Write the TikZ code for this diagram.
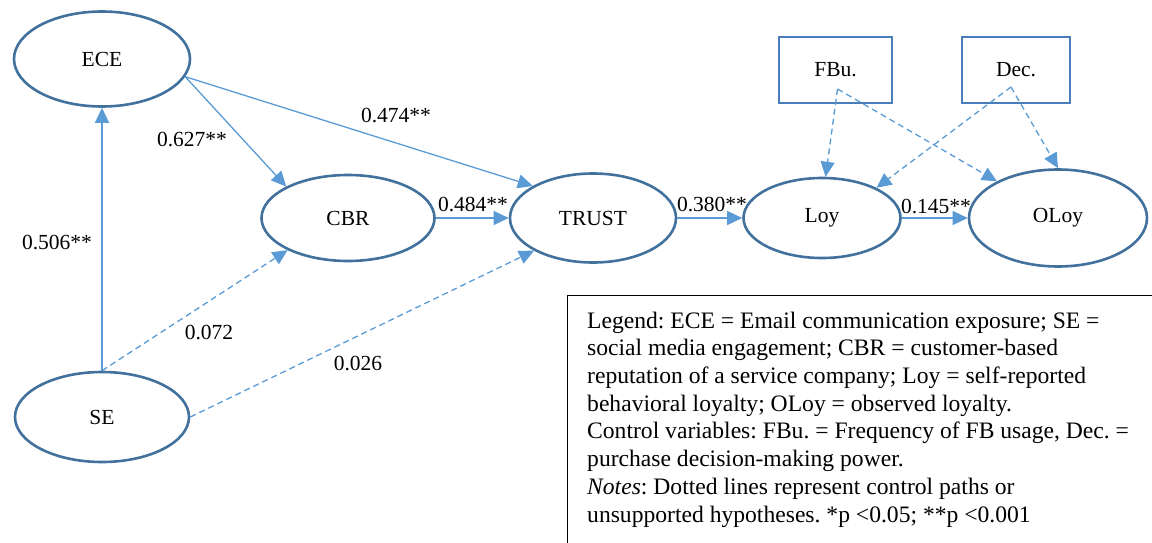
\documentclass[tikz,border=0pt]{standalone}
\usepackage{fontspec}
\setmainfont{Liberation Serif}
\usetikzlibrary{shapes.geometric,arrows.meta}
\definecolor{ovalline}{HTML}{41719C}
\definecolor{boxline}{HTML}{4A7EBB}
\definecolor{pathline}{HTML}{5B9BD5}
\frenchspacing
\begin{document}
\begin{tikzpicture}[x=1pt,y=-1pt,
  labelfont/.style={font=\fontsize{21.5}{26}\selectfont},
  construct/.style={ellipse,draw=ovalline,line width=2.6pt,inner sep=0pt,labelfont},
  control/.style={rectangle,draw=boxline,line width=2.4pt,inner sep=0pt,minimum height=66pt,labelfont},
  link/.style={draw=pathline,line width=1.3pt,-{Triangle[length=15pt,width=14pt]}},
  ctrl/.style={link,dash pattern=on 6pt off 4pt},
  coef/.style={inner sep=0pt,labelfont},
]
\useasboundingbox (0,0) rectangle (1152,543);

% latent constructs
\node[construct,minimum width=176pt,minimum height=95pt] (ECE) at (102,59) {ECE};
\node[construct,minimum width=174pt,minimum height=90pt] (SE) at (102,417) {SE};
\node[construct,minimum width=173pt,minimum height=86pt] (CBR) at (348,218) {CBR};
\node[construct,minimum width=166pt,minimum height=89pt] (TRUST) at (593,218) {TRUST};
\node[construct,minimum width=157pt,minimum height=80pt] (Loy) at (822,218) {Loy};
\node[construct,minimum width=178pt,minimum height=97pt] (OLoy) at (1058,218) {OLoy};

% control variables
\node[control,minimum width=113pt] (FBu) at (835.5,70) {FBu.};
\node[control,minimum width=108pt] (Dec) at (1016,70) {Dec.};
\coordinate (fbsrc) at ([xshift=2pt,yshift=-19pt]FBu.center);
\coordinate (decsrc) at ([xshift=-5pt,yshift=-17pt]Dec.center);

% structural paths
\draw[link] (SE.north) -- (ECE.south);
\draw[link] (ECE.-12) -- (CBR.153);
\draw[link] (ECE.-12) -- (TRUST.152);
\draw[link] (CBR.east) -- (TRUST.west);
\draw[link] (TRUST.east) -- (Loy.west);
\draw[link] (Loy.east) -- (OLoy.west);

% control and unsupported paths
\draw[ctrl] (SE.north) -- (CBR.208);
\draw[ctrl] (SE.east) -- (TRUST.209);
\draw[ctrl] (fbsrc) -- (Loy.85);
\draw[ctrl] (fbsrc) -- (OLoy.149);
\draw[ctrl] (decsrc) -- (Loy.29);
\draw[ctrl] (decsrc) -- (OLoy.north);

% path coefficients
\node[coef] (c1) at (192,140) {0.627**};
\node[coef] (c2) at (396,116) {0.474**};
\node[coef] (c3) at (57,243) {0.506**};
\node[coef] (c4) at (473,205) {0.484**};
\node[coef] (c5) at (712,205) {0.380**};
\node[coef] (c6) at (936,207) {0.145**};
\node[coef] (c7) at (209,333) {0.072};
\node[coef] (c8) at (358,364) {0.026};

% legend (base anchor sits on the last line)
\draw[line width=1pt] (1152,295) -- (567,295) -- (567,543);
\node[inner sep=0pt,anchor=base west,align=left,font=\fontsize{23.6}{27.7}\selectfont] (legend) at (587,522)
{Legend: ECE = Email communication exposure; SE =\\
social media engagement; CBR = customer-based\\
reputation of a service company; Loy = self-reported\\
behavioral loyalty; OLoy = observed loyalty.\\
Control variables: FBu. = Frequency of FB usage, Dec. =\\
purchase decision-making power.\\
\textit{Notes}: Dotted lines represent control paths or\\
unsupported hypotheses. *p <0.05; **p <0.001};
\end{tikzpicture}
\end{document}
